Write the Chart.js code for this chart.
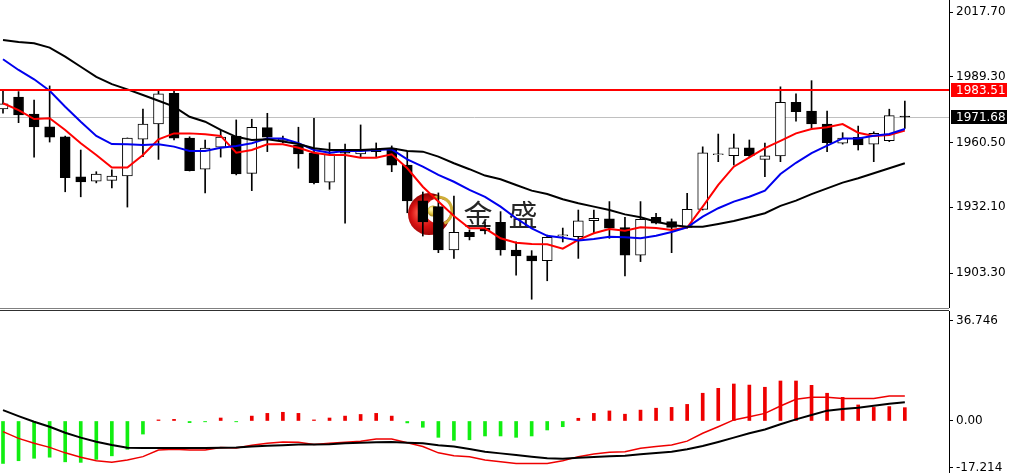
<!DOCTYPE html>
<html><head><meta charset="utf-8">
<script src="https://cdn.jsdelivr.net/npm/chart.js@4.4.1/dist/chart.umd.min.js"></script>
<style>
html,body{margin:0;padding:0;background:#fff;overflow:hidden}
#wrap{position:relative;width:1010px;height:473px;background:#fff}
#c1{position:absolute;left:0;top:0}
#c2{position:absolute;left:0;top:311px}
.sep{position:absolute;left:0;width:949px;height:1px}
</style></head><body>
<div id="wrap">
<canvas id="c1" width="1010" height="308"></canvas>
<canvas id="c2" width="1010" height="162"></canvas>
<div class="sep" style="top:308px;background:#808080"></div>
<div class="sep" style="top:310px;background:#303030"></div>
</div>
<script>
// ---------- DATA ----------
const barIndex = [0,1,2,3,4,5,6,7,8,9,10,11,12,13,14,15,16,17,18,19,20,21,22,23,24,25,26,27,28,29,30,31,32,33,34,35,36,37,38,39,40,41,42,43,44,45,46,47,48,49,50,51,52,53,54,55,56,57,58];
const openP  = [1975.2,1980.4,1973.0,1967.4,1963.0,1945.4,1943.6,1943.9,1945.8,1962.0,1968.6,1982.1,1962.4,1948.8,1958.5,1963.3,1947.0,1967.0,1961.2,1959.4,1955.8,1943.1,1956.2,1955.5,1957.7,1958.0,1950.6,1934.9,1932.4,1913.4,1921.1,1923.0,1925.5,1913.4,1910.8,1908.7,1919.5,1919.2,1926.2,1927.0,1923.2,1911.1,1927.7,1925.8,1923.3,1931.2,1955.2,1954.7,1958.2,1953.1,1954.6,1978.1,1974.3,1968.6,1960.2,1962.8,1959.8,1961.3,1972.1];
const highP  = [1983.5,1982.8,1979.1,1985.3,1963.3,1957.2,1947.7,1948.5,1962.5,1975.1,1983.2,1983.5,1963.0,1961.6,1966.0,1970.4,1970.7,1973.3,1963.3,1967.2,1971.1,1960.4,1959.8,1968.2,1960.3,1959.0,1956.5,1938.8,1938.4,1937.0,1922.2,1925.7,1930.2,1917.0,1913.1,1919.9,1923.0,1930.9,1930.9,1934.6,1927.7,1934.6,1929.5,1927.0,1938.2,1958.6,1964.2,1964.2,1961.6,1960.2,1984.9,1981.8,1987.6,1974.3,1964.8,1967.7,1965.2,1975.1,1978.7];
const lowP   = [1973.4,1969.2,1954.1,1960.7,1938.9,1936.7,1942.8,1940.6,1932.2,1954.3,1953.1,1961.6,1948.0,1938.4,1954.1,1946.3,1939.4,1956.5,1960.3,1949.2,1942.3,1940.0,1925.1,1954.0,1954.3,1947.7,1929.7,1919.5,1912.2,1909.7,1917.8,1920.4,1911.1,1902.4,1891.8,1899.9,1916.9,1909.7,1920.7,1918.5,1902.0,1908.3,1924.8,1912.2,1922.9,1930.9,1952.1,1950.6,1953.8,1945.5,1952.1,1969.9,1966.7,1956.5,1959.8,1957.2,1952.1,1960.9,1966.7];
const closeP = [1977.4,1972.6,1967.3,1962.8,1945.1,1943.2,1946.7,1945.8,1962.4,1968.6,1981.8,1962.4,1948.1,1958.1,1962.9,1946.7,1967.2,1962.8,1962.0,1955.5,1942.9,1955.5,1955.8,1957.2,1956.5,1950.6,1934.9,1925.7,1913.4,1921.1,1919.2,1921.7,1913.4,1910.8,1908.6,1918.9,1920.0,1926.2,1927.3,1922.9,1911.1,1926.8,1925.1,1923.3,1931.2,1956.0,1955.5,1958.2,1954.7,1954.7,1978.1,1974.0,1968.6,1960.4,1962.4,1959.4,1964.5,1972.3,1971.68];
const maFast = [1977.7,1974.7,1970.8,1971.1,1966.0,1960.2,1955.0,1949.5,1949.5,1955.0,1961.9,1964.5,1964.5,1964.1,1963.4,1956.0,1957.2,1959.7,1959.7,1958.2,1956.0,1955.0,1955.0,1953.8,1953.8,1955.3,1949.2,1941.1,1934.6,1928.3,1922.9,1922.9,1918.5,1916.6,1916.0,1915.9,1914.0,1917.8,1920.7,1922.6,1921.8,1923.3,1923.0,1922.2,1923.2,1932.4,1941.9,1949.9,1954.0,1958.0,1961.2,1964.5,1966.4,1967.2,1968.6,1964.8,1963.4,1963.8,1965.7];
const maMid  = [1997.0,1992.3,1988.2,1983.2,1976.2,1969.6,1963.4,1959.8,1959.7,1959.4,1959.7,1958.7,1956.8,1956.8,1958.2,1959.0,1960.2,1962.3,1962.3,1960.2,1957.2,1956.0,1956.8,1956.8,1957.2,1957.5,1953.1,1949.9,1946.3,1943.3,1939.7,1936.7,1932.4,1927.3,1922.9,1919.6,1918.8,1917.5,1918.2,1919.2,1919.0,1918.5,1919.6,1921.3,1923.3,1928.0,1931.7,1934.6,1936.7,1939.4,1946.7,1951.6,1955.8,1959.1,1962.3,1962.3,1963.5,1964.2,1966.4];
const maSlow = [2005.4,2004.6,2004.0,2002.1,1998.1,1993.7,1989.3,1986.1,1983.8,1981.3,1978.8,1976.2,1971.8,1969.6,1966.0,1963.0,1961.6,1961.9,1960.9,1959.8,1958.0,1957.2,1957.2,1957.2,1957.5,1958.0,1956.8,1956.5,1954.3,1951.4,1948.8,1946.0,1944.4,1941.9,1939.4,1937.9,1935.6,1933.9,1932.4,1930.9,1929.0,1927.7,1925.8,1924.3,1923.6,1923.6,1924.8,1926.1,1927.7,1929.5,1932.7,1935.0,1937.9,1940.4,1942.9,1944.8,1947.0,1949.2,1951.4];
const macdHist   = [-15.6,-14.6,-13.7,-13.3,-15.0,-15.2,-14.1,-12.8,-10.4,-4.8,0.4,0.6,-0.6,-0.3,1.1,-0.3,1.8,2.8,3.2,2.8,0.4,1.1,1.8,2.4,2.8,1.8,-0.7,-2.3,-6.0,-7.1,-6.9,-5.5,-5.5,-6.0,-5.5,-3.3,-2.1,1.0,2.8,3.7,2.5,4.0,4.7,5.0,6.1,10.2,12.0,13.6,13.2,12.4,14.7,14.7,13.1,10.2,8.7,5.9,5.0,5.3,4.9];
const macdMain   = [4.0,1.8,-0.3,-2.1,-4.3,-6.1,-7.6,-8.8,-9.8,-9.9,-9.9,-9.9,-9.9,-9.9,-9.8,-9.7,-9.4,-9.1,-8.9,-8.6,-8.6,-8.5,-8.2,-8.0,-7.8,-7.7,-8.0,-8.2,-8.9,-9.4,-10.3,-11.3,-11.9,-12.5,-13.1,-13.7,-13.9,-13.5,-13.2,-13.0,-12.8,-12.2,-11.8,-11.3,-10.4,-9.2,-7.7,-6.1,-4.5,-3.1,-1.2,0.6,2.2,3.8,4.4,4.9,5.6,6.3,6.9];
const macdSignal = [-3.9,-6.4,-8.2,-9.7,-11.7,-13.3,-14.6,-15.2,-14.3,-13.1,-10.7,-10.4,-10.7,-10.7,-9.7,-9.9,-8.9,-8.2,-7.7,-7.8,-8.6,-8.2,-7.8,-7.4,-6.6,-6.6,-8.0,-9.4,-11.7,-12.8,-13.1,-14.3,-15.0,-15.6,-15.6,-15.6,-14.6,-13.1,-12.1,-11.5,-11.3,-10.0,-9.4,-8.8,-7.4,-4.5,-2.1,0.4,1.6,2.8,5.5,8.0,8.7,8.7,8.3,8.3,8.3,9.2,9.2];
const priceTicks = [2017.70,1989.30,1960.50,1932.10,1903.30];
const priceTickLabels = ["2017.70","1989.30","1960.50","1932.10","1903.30"];
const macdTicks = [36.746,0,-17.214];
const macdTickLabels = ["36.746","0.00","-17.214"];
const resistanceLevel = 1983.51;
const lastPrice = 1971.68;
const watermarkText = ["金","盛"];

// ---------- LAYOUT CONSTANTS ----------
const X_MIN = -0.193, X_MAX = 60.84;
const FONT = '"DejaVu Sans", sans-serif';

function fixAxis(s){ s.width = 61; s.paddingTop = 0; s.paddingBottom = 0; }

const bodyData = barIndex.map(i => ({x:i, y:[openP[i], closeP[i]]}));
const wickData = barIndex.map(i => ({x:i, y:[lowP[i], highP[i]]}));
const bodyColors = barIndex.map(i => closeP[i] > openP[i] ? '#ffffff' : '#000000');
const lineData = arr => barIndex.map(i => ({x:i, y:arr[i]}));

const mainPlugin = {
  id:'mainDecor',
  beforeDatasetsDraw(chart){
    const {ctx, chartArea:a, scales:{y}} = chart;
    ctx.save();
    // last price gray line
    let yl = Math.round(y.getPixelForValue(lastPrice)) + 0.5;
    ctx.strokeStyle = '#c0c0c0'; ctx.lineWidth = 1;
    ctx.beginPath(); ctx.moveTo(a.left, yl); ctx.lineTo(a.right, yl); ctx.stroke();
    // watermark logo
    const cx = 429, cy = 214;
    let g = ctx.createRadialGradient(cx-9, cy-2, 2, cx-2, cy+2, 23);
    g.addColorStop(0,'#ff5a4a'); g.addColorStop(0.5,'#d81212'); g.addColorStop(1,'#8a0000');
    ctx.fillStyle = g; ctx.beginPath(); ctx.arc(cx, cy, 21, 0, Math.PI*2); ctx.fill();
    ctx.fillStyle = '#ffffff'; ctx.beginPath(); ctx.arc(cx+9, cy-3, 12.5, 0, Math.PI*2); ctx.fill();
    ctx.strokeStyle = '#cfae38'; ctx.lineWidth = 3;
    ctx.beginPath(); ctx.arc(cx+9, cy-3, 14, -1.9, 1.1); ctx.stroke();
    let g2 = ctx.createRadialGradient(cx+2, cy-5, 1, cx+4, cy-3, 6);
    g2.addColorStop(0,'#fff4a8'); g2.addColorStop(0.55,'#dcc040'); g2.addColorStop(1,'#9a7a10');
    ctx.fillStyle = g2; ctx.beginPath(); ctx.arc(cx+4, cy-3, 5.5, 0, Math.PI*2); ctx.fill();
    // watermark text
    ctx.fillStyle = '#262626';
    ctx.font = '29px "Noto Sans CJK SC", sans-serif';
    ctx.textAlign = 'center'; ctx.textBaseline = 'middle';
    ctx.fillText(watermarkText[0], 478, 215);
    ctx.fillText(watermarkText[1], 523, 215);
    ctx.restore();
  },
  afterDatasetsDraw(chart){
    const {ctx, chartArea:a, scales:{y}} = chart;
    ctx.save();
    let yr = y.getPixelForValue(resistanceLevel);
    ctx.strokeStyle = '#ff0000'; ctx.lineWidth = 2;
    ctx.beginPath(); ctx.moveTo(a.left, yr); ctx.lineTo(a.right, yr); ctx.stroke();
    ctx.restore();
  },
  afterDraw(chart){
    const {ctx, chartArea:a, scales:{y}} = chart;
    ctx.save();
    ctx.font = '12px ' + FONT;
    ctx.textAlign = 'left'; ctx.textBaseline = 'middle';
    const box = (v, bg, label) => {
      const py = y.getPixelForValue(v);
      ctx.fillStyle = bg;
      ctx.fillRect(a.right + 2, Math.round(py) - 7, 56, 14);
      ctx.fillStyle = '#ffffff';
      ctx.fillText(label, a.right + 7, Math.round(py) + 0.5);
    };
    box(resistanceLevel, '#ff0000', resistanceLevel.toFixed(2));
    box(lastPrice, '#000000', lastPrice.toFixed(2));
    ctx.restore();
  }
};

const yAxisCommon = (ticks, labels, min, max) => ({
  position:'right', min, max,
  afterFit: fixAxis,
  afterBuildTicks: s => { s.ticks = ticks.map(v => ({value:v})); },
  border:{display:true, color:'#000', width:1},
  grid:{display:true, drawOnChartArea:false, drawTicks:true, tickLength:4, color:'#000'},
  ticks:{
    color:'#000', font:{family:FONT, size:12}, padding:3,
    autoSkip:false,
    callback:(v, i) => labels[i]
  }
});

new Chart(document.getElementById('c1'), {
  type:'bar',
  data:{
    datasets:[
      {type:'line', data:lineData(maSlow), borderColor:'#000000', borderWidth:2, pointRadius:0, order:0},
      {type:'line', data:lineData(maMid), borderColor:'#0000ee', borderWidth:2, pointRadius:0, order:0},
      {type:'line', data:lineData(maFast), borderColor:'#ff0000', borderWidth:2, pointRadius:0, order:0},
      {type:'bar', data:bodyData, backgroundColor:bodyColors, borderColor:'#000', borderWidth:1,
       borderSkipped:false, barThickness:10, grouped:false, order:1},
      {type:'bar', data:wickData, backgroundColor:'#000', borderWidth:0, barThickness:1, grouped:false, order:2}
    ]
  },
  options:{
    responsive:false, animation:false, devicePixelRatio:1,
    layout:{padding:0},
    plugins:{legend:{display:false}, tooltip:{enabled:false}},
    scales:{
      x:{type:'linear', min:X_MIN, max:X_MAX, display:false, offset:false},
      y:yAxisCommon(priceTicks, priceTickLabels, 1887.96, 2022.96)
    }
  },
  plugins:[mainPlugin]
});

const histColors = macdHist.map(v => v < 0 ? '#11ee11' : '#ee0000');

new Chart(document.getElementById('c2'), {
  type:'bar',
  data:{
    datasets:[
      {type:'line', data:lineData(macdMain), borderColor:'#000000', borderWidth:2, pointRadius:0, order:0},
      {type:'line', data:lineData(macdSignal), borderColor:'#ee0000', borderWidth:1.5, pointRadius:0, order:0},
      {type:'bar', data:barIndex.map(i => ({x:i, y:macdHist[i]})), backgroundColor:histColors,
       borderWidth:0, barThickness:3, grouped:false, order:1}
    ]
  },
  options:{
    responsive:false, animation:false, devicePixelRatio:1,
    layout:{padding:0},
    plugins:{legend:{display:false}, tooltip:{enabled:false}},
    scales:{
      x:{type:'linear', min:X_MIN, max:X_MAX, display:false, offset:false},
      y:yAxisCommon(macdTicks, macdTickLabels, -19.11, 40.42)
    }
  }
});
</script>
</body></html>
